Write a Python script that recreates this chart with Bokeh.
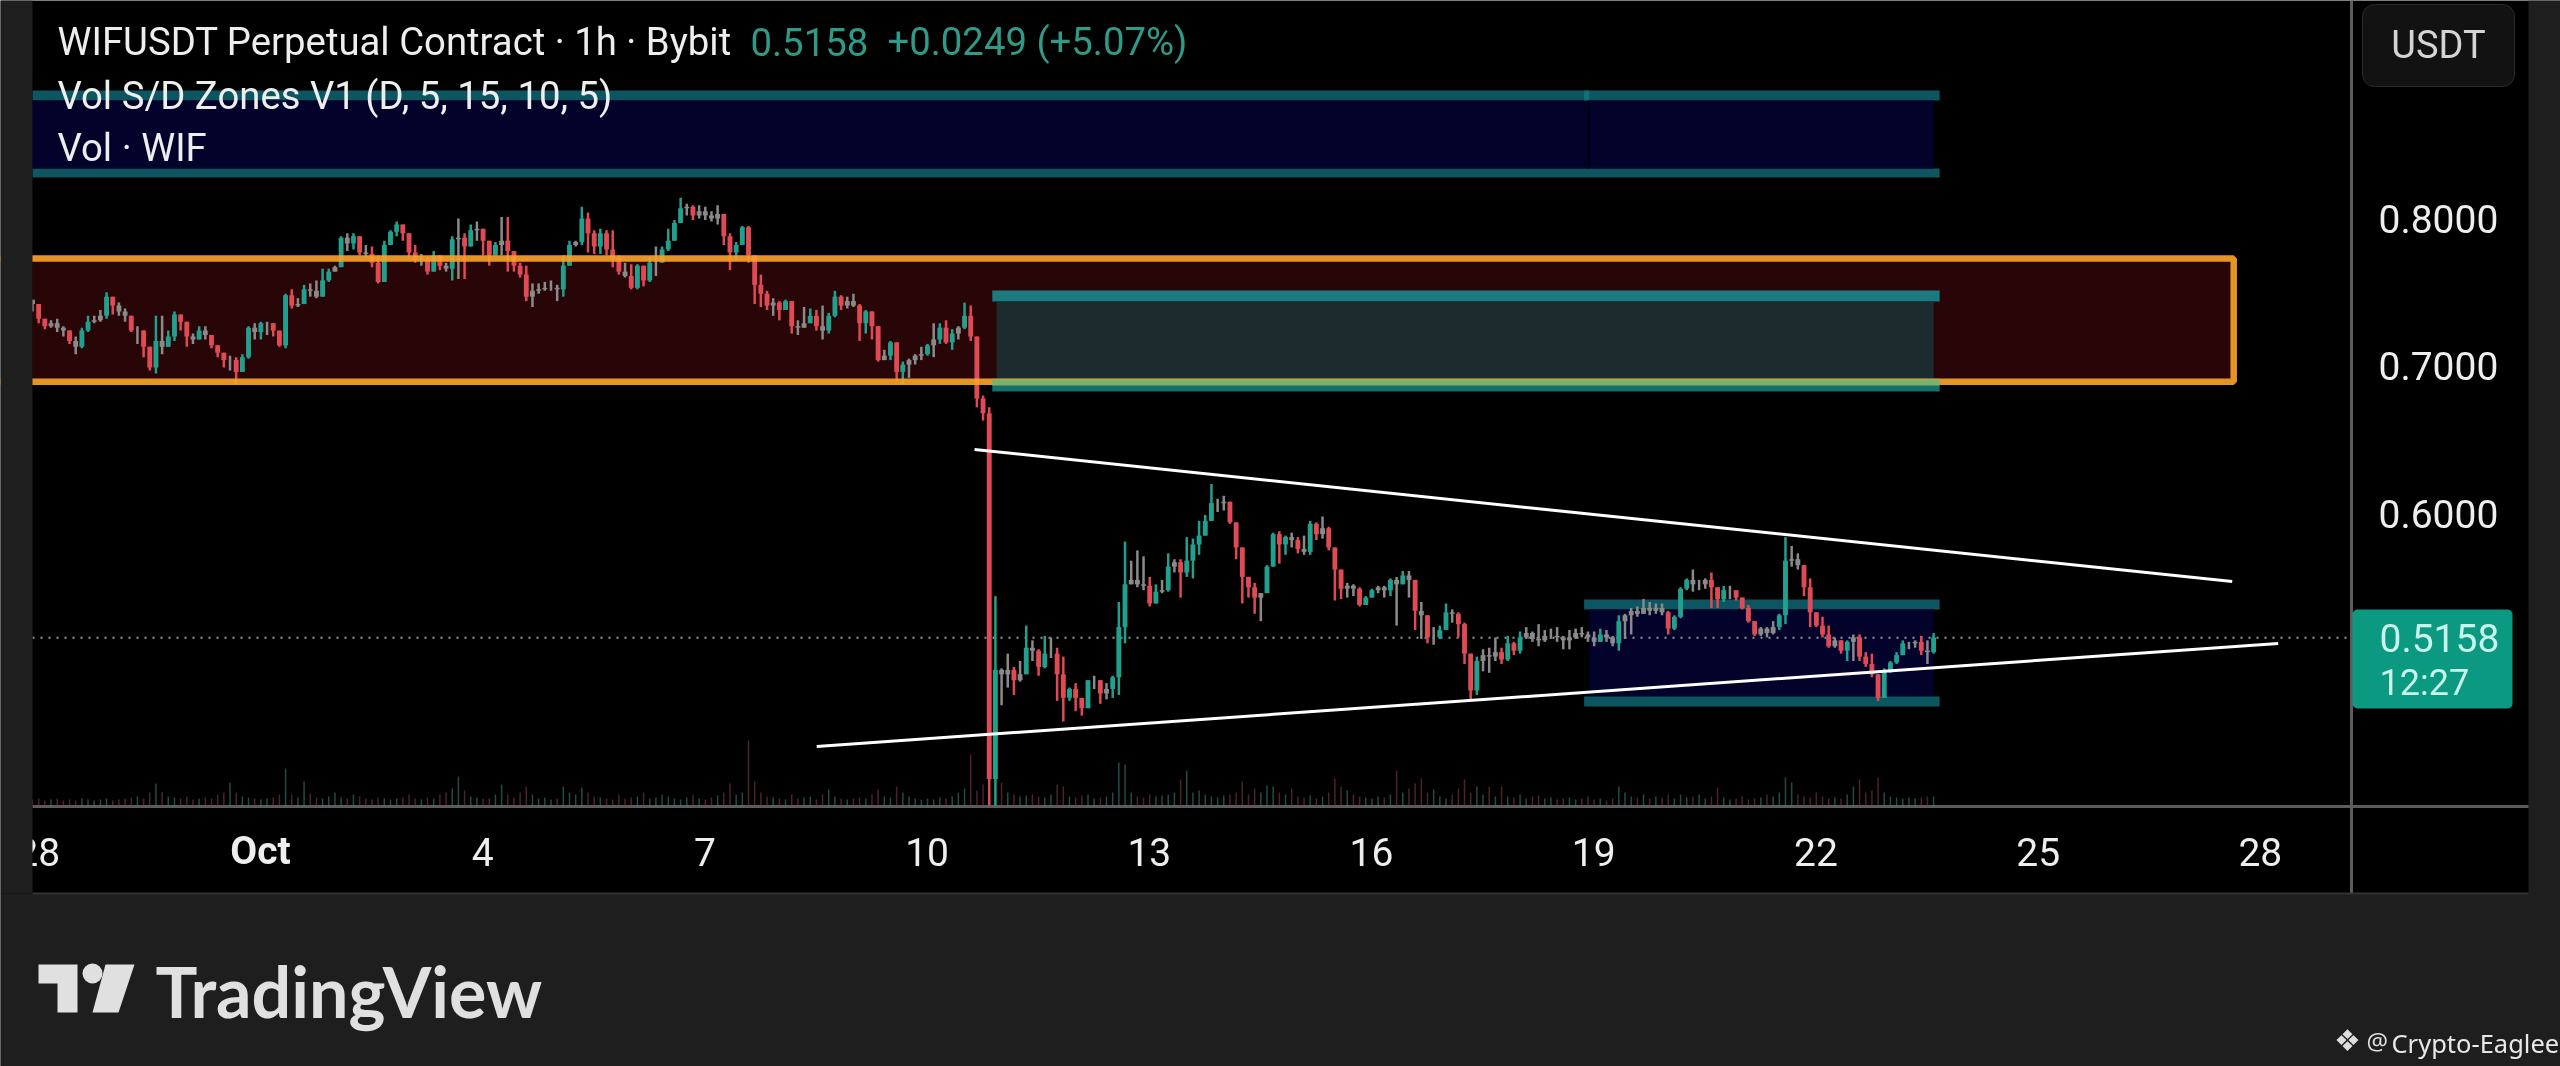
from bokeh.plotting import figure
from bokeh.models import Range1d, FixedTicker, Label, BoxAnnotation, PolyAnnotation
from bokeh.embed import file_html
from bokeh.resources import INLINE

# ---------- data (prices in thousandths of USDT, bars every 2 hours) ----------
close_milli = [
742,732,727,729,726,724,717,713,724,730,731,734,747,741,737,734,724,724,713,699,
717,713,720,735,730,720,718,724,721,714,709,704,704,696,706,726,723,729,729,724,
714,748,741,742,752,751,747,758,764,767,787,783,788,777,776,770,757,782,791,796,
790,777,772,772,764,775,768,766,786,787,781,792,793,785,775,782,785,778,768,762,
747,
751,752,753,753,752,768,782,784,800,790,781,790,779,773,764,761,753,768,758,770,
770,779,785,797,807,808,802,805,802,800,803,788,777,782,794,775,755,749,741,743,
738,744,727,726,729,734,727,724,734,747,741,744,741,729,737,727,704,707,716,696,
701,704,707,708,714,718,726,716,722,726,734,720,
678,668,420,494,
491,494,487,491,509,507,496,505,505,491,475,481,475,468,487,487,478,481,489,523,
552,555,552,551,539,547,548,564,567,560,568,579,585,595,607,607,608,594,577,557,
550,543,546,564,586,579,584,582,576,574,593,586,590,577,562,549,551,549,538,543,
548,550,548,555,552,558,555,534,531,516,516,521,533,
532,525,505,480,500,504,503,506,501,512,507,516,519,515,514,517,517,516,514,516,
519,518,516,513,518,516,512,527,531,534,532,536,534,536,533,522,530,549,555,552,
552,555,550,542,548,548,543,536,527,518,522,519,523,531,568,569,565,550,533,524,
518,510,514,507,513,516,503,498,491,475,493,499,504,512,512,513,507,506,516]
high_milli = [
744,738,730,731,732,727,722,720,726,734,734,738,750,747,743,739,732,727,720,711,
734,734,724,737,735,729,722,727,727,720,714,708,707,706,708,727,729,730,730,727,
723,749,752,746,755,756,758,766,766,768,788,790,790,782,782,781,775,785,792,798,
795,788,782,776,774,778,774,770,788,800,790,796,798,793,781,784,801,801,775,770,
768,
756,756,757,758,755,775,785,785,808,804,792,793,792,792,775,770,769,769,762,774,
781,781,793,799,814,810,809,809,808,805,809,801,790,784,795,795,770,762,751,746,
744,745,740,731,740,739,738,741,736,751,748,747,749,742,738,731,722,711,717,705,
703,705,708,713,715,729,729,731,725,727,743,741,
720,680,672,544,
495,505,496,500,524,514,508,517,516,509,503,482,485,475,487,490,487,485,490,540,
581,568,575,571,557,552,555,573,569,569,584,583,595,599,620,610,612,608,591,574,
556,553,546,565,587,588,585,587,584,585,595,594,598,591,573,562,553,552,550,544,
549,551,551,556,557,561,561,550,540,530,523,524,539,
535,533,526,498,503,508,509,516,509,517,513,520,523,520,525,521,522,523,517,521,
522,523,520,520,522,521,517,531,532,536,537,542,540,539,539,534,531,550,556,562,
555,556,560,550,551,551,547,543,538,527,523,523,527,532,584,578,573,565,556,533,
530,524,516,513,514,518,518,506,505,490,495,500,506,514,513,514,517,514,519]
low_milli = [
737,729,725,726,723,720,715,708,712,723,729,730,732,735,734,730,723,715,706,697,
695,708,716,717,724,713,715,718,718,712,706,699,697,688,698,705,718,718,721,720,
713,712,739,740,742,747,746,757,757,764,770,778,779,775,774,767,756,772,782,788,
785,774,770,768,762,765,765,764,758,759,759,785,785,775,768,775,775,764,764,760,
744,
740,749,751,751,744,747,768,781,782,777,776,776,775,767,762,760,752,752,754,757,
761,770,778,787,800,802,799,800,799,798,796,782,765,772,782,770,742,740,738,734,
731,738,722,721,727,730,724,718,722,733,738,739,740,717,722,718,703,704,704,690,
688,692,701,704,707,706,715,715,711,718,725,717,
672,663,402,402,
470,482,477,486,496,500,490,495,502,473,459,473,466,463,468,481,471,474,475,477,
512,552,550,548,537,541,546,547,560,543,557,556,572,585,599,601,602,593,569,539,
543,532,527,552,565,566,572,577,573,572,572,582,583,575,541,542,543,544,537,539,
543,546,543,544,524,552,543,521,515,512,511,515,522,
526,516,498,473,477,493,492,500,498,500,504,505,515,513,510,513,515,513,508,508,
515,516,513,510,514,513,510,507,515,518,530,532,531,532,531,518,521,529,548,547,
548,549,536,536,540,542,541,535,526,517,517,516,518,521,525,564,562,544,523,523,
516,509,509,505,500,500,500,496,489,473,478,492,498,506,508,509,504,498,505]
volume = [
7,8,6,7,8,6,7,6,8,7,6,7,8,6,7,8,9,10,8,14,23,14,10,9,8,10,7,8,9,8,
12,14,24,14,10,9,8,7,8,9,12,38,12,9,25,13,9,8,10,14,9,8,12,10,8,7,9,8,7,8,
9,12,8,7,9,8,12,14,18,30,16,10,9,8,8,12,22,12,9,14,20,12,8,9,7,8,20,14,12,19,
14,10,9,8,7,12,8,9,10,14,8,9,12,10,8,7,9,12,8,7,9,11,14,23,12,14,66,25,14,10,
9,8,7,12,8,9,10,7,12,17,10,8,7,8,9,8,12,17,10,9,20,14,10,8,7,8,7,9,8,10,
14,18,52,16,22,55,38,24,14,12,10,11,12,10,9,12,22,20,10,9,11,12,8,9,10,14,44,42,14,10,
9,12,10,11,12,14,27,36,14,16,12,10,9,11,12,14,25,12,18,14,21,20,14,12,18,10,9,11,8,10,
14,28,20,16,12,10,9,8,10,9,12,36,14,18,23,28,14,17,10,8,12,18,27,14,20,12,20,10,20,10,
9,12,8,10,11,8,9,7,8,9,7,8,10,7,8,6,8,20,14,10,9,12,8,10,9,12,8,12,9,10,
12,8,10,19,9,7,8,10,7,8,9,12,10,14,29,24,12,10,9,14,10,8,9,8,12,20,27,14,16,29,
14,10,9,8,9,8,9,10,10]
first_open_milli = 745
first_bar_day = -3.078      # days from 1 Oct
bar_step_day = 1 / 12
last_price = 0.5158

tick_days = [-3, 0, 3, 6, 9, 12, 15, 18, 21, 24, 27]
tick_names = ["28", "", "4", "7", "10", "13", "16", "19", "22", "25", "28"]
month_name = "Oct"
price_ticks = [0.6, 0.7, 0.8]
price_labels = ["0.6000", "0.7000", "0.8000"]

axis_first_day, axis_last_day = -3.078, 28.23
axis_low_price = 0.4014

# zones: left day, right day, bottom price, top price, colour (painted in this order)
zone_left = [-3.078, -3.078, -3.078, -3.078, 9.88, 9.94, 9.88, 17.87, 17.94, 17.87, 17.87, 17.91]
zone_right = [26.64, 22.67, 22.67, 22.59, 22.67, 22.59, 22.67, 22.67, 22.59, 22.67, 17.94, 17.95]
zone_bottom = [0.6893, 0.8800, 0.8278, 0.8339, 0.7437, 0.6915, 0.6827, 0.5349, 0.4759, 0.4692, 0.8800, 0.8339]
zone_top = [0.7729, 0.8868, 0.8339, 0.8800, 0.7512, 0.7437, 0.6915, 0.5417, 0.5349, 0.4759, 0.8868, 0.8800]
zone_color = ["#280608", "#0d5560", "#0d5560", "#02022a", "#1b7a7e", "#1b2b2e", "#136f70",
              "#0d5560", "#02022a", "#0d5560", "#127078", "#000018"]

resist_left, resist_right, resist_bottom, resist_top = -4, 26.64, 0.6893, 0.7729
overlap_left, overlap_right, overlap_bottom, overlap_top = 9.88, 22.67, 0.6868, 0.6908

upper_day = [9.64, 26.62]
upper_price = [0.6434, 0.5539]
lower_day = [7.51, 27.24]
lower_price = [0.4420, 0.5119]

UP, DOWN, FLAT = "#22a08e", "#e04a55", "#8a8a8a"
BG, PANEL = "#1e1e1e", "#000000"
W, H = 2560, 1066

# ---------- derived ----------
closes = [v / 1000 for v in close_milli]
opens = [first_open_milli / 1000] + closes[:-1]
highs = [max(h / 1000, o, c) for h, o, c in zip(high_milli, opens, closes)]
lows = [min(l / 1000, o, c) for l, o, c in zip(low_milli, opens, closes)]
days = [first_bar_day + i * bar_step_day for i in range(len(closes))]
colors = [FLAT if abs(c - o) < 0.0045 else (UP if c >= o else DOWN) for o, c in zip(opens, closes)]
vol_colors = ["#3c8a80" if c >= o else "#8a4048" for o, c in zip(opens, closes)]

# the frame fills the whole page: 74.07 px per day, 1475 px per 1.0 of price
p = figure(width=W, height=H, output_backend="svg", toolbar_location=None,
           x_range=Range1d(-3.510, 31.052), y_range=Range1d(0.2251, 0.9478),
           x_axis_location="below", y_axis_location="right",
           background_fill_color=PANEL, border_fill_color=PANEL,
           min_border_left=0, min_border_right=0, min_border_top=0, min_border_bottom=0)
p.styles = {"position": "fixed", "left": "0px", "top": "0px"}
p.outline_line_color = None
p.grid.visible = False

for axis in (p.xaxis[0], p.yaxis[0]):
    axis.axis_line_color = None
    axis.major_tick_line_color = None
    axis.minor_tick_line_color = None
    axis.major_label_text_font = "Roboto"
    axis.major_label_text_font_size = "39px"
    axis.major_label_text_color = "#eeeeee"
p.xaxis[0].fixed_location = axis_low_price
p.xaxis[0].ticker = FixedTicker(ticks=tick_days)
p.xaxis[0].major_label_overrides = {d: n for d, n in zip(tick_days, tick_names)}
p.xaxis[0].major_label_standoff = 26
p.yaxis[0].fixed_location = axis_last_day
p.yaxis[0].ticker = FixedTicker(ticks=price_ticks)
p.yaxis[0].major_label_overrides = {d: n for d, n in zip(price_ticks, price_labels)}
p.yaxis[0].major_label_standoff = 21


def box(l, t, r, b, color, level="underlay", line=None, radius=0):
    p.add_layout(BoxAnnotation(left=l, right=r, top=t, bottom=b,
                               left_units="canvas", right_units="canvas",
                               top_units="canvas", bottom_units="canvas",
                               fill_color=color, fill_alpha=1,
                               line_color=line, line_alpha=1 if line else 0,
                               border_radius=radius, level=level))


def text(x, y, s, size, color="#eeeeee", font="Roboto", style="normal", align="left"):
    p.add_layout(Label(x=x, y=y, x_units="canvas", y_units="canvas", text=s,
                       text_font=font, text_font_size=f"{size}px", text_color=color,
                       text_font_style=style, text_align=align, text_baseline="middle"))


# page furniture
box(0, 893, W, H, BG)
box(2528, 0, W, H, BG)
box(0, 0, 32, 893, BG, level="overlay")
box(32, 804.5, 2528, 807.5, "#5c5c5c")
box(2349.5, 0, 2352.5, 893, "#5c5c5c")
box(32, 892, 2528, 894, "#333333")
box(2362, 4, 2514, 86, "#121212", line="#2a2a2a", radius=12)
box(2352, 609, 2512, 708, "#0b9981", radius=5)

# zones
p.quad(left=zone_left, right=zone_right, bottom=zone_bottom, top=zone_top,
       fill_color=zone_color, line_color=None)

p.line([axis_first_day, axis_last_day], [last_price, last_price], line_color="#8c9c9a",
       line_width=2, line_dash="2 6")

# volume
p.extra_y_ranges = {"vol": Range1d(-260, 806)}
p.segment(x0=days, x1=days, y0=[0] * len(volume), y1=volume, y_range_name="vol",
          line_color=vol_colors, line_width=1.5, line_alpha=0.55)

# candles
p.segment(x0=days, x1=days, y0=lows, y1=highs, line_color=colors, line_width=2.5)
p.vbar(x=days, width=0.066, bottom=[min(o, c) for o, c in zip(opens, closes)],
       top=[max(o, c) for o, c in zip(opens, closes)], fill_color=colors, line_color=None)

# resistance border on top of candles
p.quad(left=[resist_left], right=[resist_right], bottom=[resist_bottom], top=[resist_top],
       fill_alpha=0, line_color="#f7a128", line_alpha=0.92, line_width=6.5)
p.quad(left=[overlap_left], right=[overlap_right], bottom=[overlap_bottom], top=[overlap_top],
       fill_color="#7fb069", line_color=None)

# trend lines
p.line(upper_day, upper_price, line_color="#ffffff", line_width=3)
p.line(lower_day, lower_price, line_color="#ffffff", line_width=3)

# texts
text(57, 41, "WIFUSDT Perpetual Contract · 1h · Bybit", 38.3)
text(750, 41, "0.5158", 38.3, color="#2f9a88")
text(887, 41, "+0.0249 (+5.07%)", 38.3, color="#2f9a88")
text(57, 95, "Vol S/D Zones V1 (D, 5, 15, 10, 5)", 38.3)
text(57, 147, "Vol · WIF", 38.3)
text(2438, 44, "USDT", 38, color="#d4d4d4", align="center")
text(2379, 637, "0.5158", 39, color="#c8f5ea")
text(2379, 682, "12:27", 36, color="#c8f5ea")
text(260, 850, month_name, 39, style="bold", align="center")
text(155, 990, "TradingView", 70, color="#e0e0e0", font="Lato", style="bold")
text(2347, 1040, "❖", 30, color="#dddddd", font="DejaVu Sans", align="center")
text(2366, 1040, "@", 24, color="#dddddd", font="Noto Sans")
text(2391, 1042, "Crypto-Eaglee", 25.5, color="#e8e8e8", font="Noto Sans")

# logo
logo = "#e0e0e0"
p.add_layout(PolyAnnotation(xs=[38, 77, 77, 57, 57, 38], ys=[964, 964, 1012, 1012, 983, 983],
                            xs_units="canvas", ys_units="canvas", fill_color=logo, fill_alpha=1,
                            line_alpha=0, level="overlay"))
p.add_layout(PolyAnnotation(xs=[105, 134, 118, 92], ys=[964, 964, 1012, 1012],
                            xs_units="canvas", ys_units="canvas", fill_color=logo, fill_alpha=1,
                            line_alpha=0, level="overlay"))
box(82, 963, 102, 983, logo, level="overlay", radius=10)

open("out.html", "w").write(file_html(p, INLINE))
